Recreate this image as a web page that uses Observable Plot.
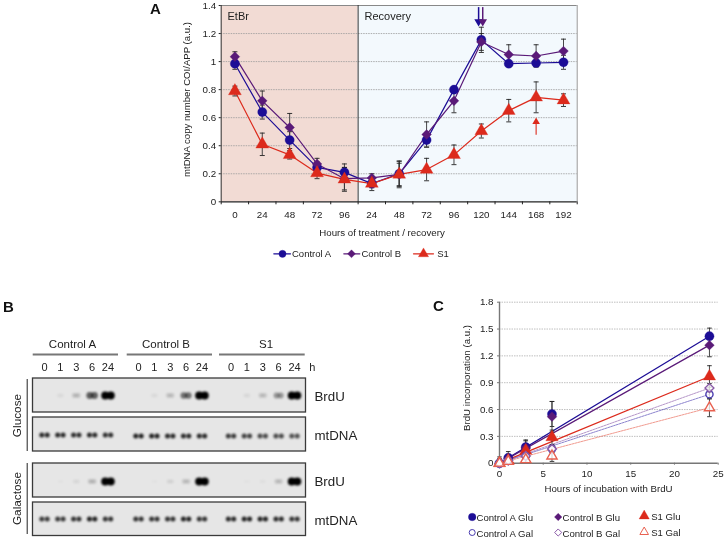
<!DOCTYPE html>
<html>
<head>
<meta charset="utf-8">
<script src="https://cdn.jsdelivr.net/npm/d3@7"></script>
<script src="https://cdn.jsdelivr.net/npm/@observablehq/plot@0.6"></script>
<style>
html,body{margin:0;padding:0;background:#fff}
#fig{position:relative;width:724px;height:538px;overflow:hidden;font-family:"Liberation Sans",Arial,sans-serif;filter:blur(.4px)}
#fig>svg,#fig>div.p{position:absolute;overflow:visible}
.letter{position:absolute;font:bold 15px "Liberation Sans",Arial,sans-serif;color:#111}
</style>
</head>
<body>
<div id="fig"></div>
<script>
// ---------- Panel A data ----------
const timeLabels = ["0","24","48","72","96","24","48","72","96","120","144","168","192"];
const controlA = [0.985,0.64,0.44,0.245,0.21,0.13,0.2,0.44,0.8,1.155,0.985,0.99,0.995];
const controlB = [1.035,0.72,0.53,0.27,0.165,0.17,0.195,0.48,0.72,1.14,1.05,1.04,1.075];
const s1 = [0.79,0.41,0.335,0.205,0.16,0.13,0.195,0.23,0.335,0.505,0.65,0.745,0.725];
const controlAErr = [0.04,0.05,0.06,0.04,0.06,0.03,0.09,0.05,0.02,0.09,0.02,0.02,0.05];
const controlBErr = [0.035,0.07,0.1,0.04,0.08,0.03,0.095,0.09,0.085,0.06,0.07,0.08,0.085];
const s1Err = [0.035,0.08,0.03,0.04,0.085,0.05,0.08,0.08,0.07,0.05,0.08,0.11,0.045];
const yTicksA = [0,0.2,0.4,0.6,0.8,1,1.2,1.4];

// ---------- Panel B data (band intensity 0-1) ----------
const groups = ["Control A","Control B","S1"];
const lanes = ["0","1","3","6","24"];
const gluBrdU = [[0,0.05,0.18,0.6,1],[0,0.05,0.16,0.52,1],[0,0.06,0.16,0.36,1]];
const gluMt   = [[0.82,0.82,0.8,0.82,0.8],[0.85,0.85,0.82,0.82,0.82],[0.75,0.72,0.68,0.68,0.65]];
const galBrdU = [[0,0.02,0.06,0.18,1],[0,0.02,0.08,0.16,1],[0,0.02,0.03,0.16,1]];
const galMt   = [[0.75,0.75,0.78,0.85,0.78],[0.78,0.78,0.78,0.85,0.78],[0.82,0.85,0.85,0.82,0.78]];

// ---------- Panel C data ----------
const hours = [0,1,3,6,24];
const aGlu = [0,0.06,0.18,0.55,1.42];
const bGlu = [0,0.05,0.17,0.52,1.32];
const sGlu = [0,0.03,0.14,0.29,0.97];
const aGal = [0,0.03,0.08,0.16,0.77];
const bGal = [0,0.03,0.08,0.16,0.84];
const sGal = [0,0.02,0.04,0.08,0.62];
const aGluErr = [0.07,0.07,0.08,0.14,0.09];
const bGluErr = [0.05,0.05,0.08,0.17,0.13];
const sGluErr = [0.03,0.03,0.05,0.08,0.12];
const aGalErr = [0.02,0.02,0.03,0.04,0.05];
const bGalErr = [0.02,0.02,0.03,0.04,0.05];
const sGalErr = [0.02,0.02,0.03,0.06,0.1];

const BLUE="#1c0d96", PURPLE="#5a1a78", RED="#dc2a1c", BLUE2="#4a3cb0", PURPLE2="#8a5aa8", RED2="#e8604f";
const fig = document.getElementById("fig");
const FONT='"Liberation Sans",Arial,sans-serif';
const cap = {draw(c,s){const r=Math.sqrt(s/Math.PI);c.moveTo(-r,0);c.lineTo(r,0);}};
function place(el,l,t){el.style.left=l+"px";el.style.top=t+"px";fig.appendChild(el);return el;}
function letter(t,l,tp){const d=document.createElement("div");d.className="letter";d.textContent=t;d.style.left=l+"px";d.style.top=tp+"px";fig.appendChild(d);}

// ---------- Panel A ----------
(function(){
  const W=440,H=270,ml=70.7,mr=13.3,mt=5,mb=68.7;
  const px=p=>((p-150-ml)/(W-ml-mr))*13-0.5;
  const py=p=>(H-mb-p)/(H-mb-mt)*1.4;
  const idx=timeLabels.map((_,i)=>i);
  const series=[
    {name:"Control A",v:controlA,e:controlAErr,c:BLUE,sym:"circle",r:4.6},
    {name:"Control B",v:controlB,e:controlBErr,c:PURPLE,sym:"diamond2",r:4.4,lr:3.6},
    {name:"S1",v:s1,e:s1Err,c:RED,sym:"triangle",r:4.8}
  ];
  const marks=[
    Plot.rect([0],{x1:-0.5,x2:4.5,y1:0,y2:1.4,fill:"#f2dbd4"}),
    Plot.rect([0],{x1:4.5,x2:12.5,y1:0,y2:1.4,fill:"#f3f9fd"}),
    Plot.ruleY(yTicksA.filter(d=>d>0&&d<1.4),{y:d=>d,stroke:"#9a9a9a",strokeWidth:.8,strokeDasharray:"1.5,1"}),
    Plot.ruleY([1.4],{stroke:"#888",strokeWidth:1}),
    Plot.ruleX([12.5],{stroke:"#999",strokeWidth:1}),
    Plot.ruleX([4.5],{stroke:"#333",strokeWidth:1}),
    Plot.ruleX([-0.5],{stroke:"#333",strokeWidth:1}),
    Plot.ruleY([0],{stroke:"#222",strokeWidth:1.2}),
    Plot.axisX({ticks:d3.range(-0.5,13,1),tickSize:3,tickFormat:()=>"",stroke:"#222"}),
    Plot.axisX({ticks:idx,tickSize:0,tickPadding:9,tickFormat:i=>timeLabels[i],fontSize:9.8,fontFamily:FONT,fill:"#222",label:null}),
    Plot.axisY({ticks:yTicksA,tickSize:2,tickPadding:3,tickFormat:d=>String(d),fontSize:9.8,fontFamily:FONT,fill:"#222",label:null,stroke:"#222"}),
    Plot.text(["Hours of treatment / recovery"],{x:px(381.5),y:py(232),text:d=>d,fontSize:9.7,fontFamily:FONT,fill:"#222"}),
    Plot.text(["mtDNA copy number COI/APP (a.u.)"],{x:px(186.7),y:py(99),text:d=>d,rotate:-90,fontSize:9.6,fontFamily:FONT,fill:"#222"}),
    Plot.text(["EtBr"],{x:px(227),y:py(16.3),text:d=>d,textAnchor:"start",fontSize:11,fontFamily:FONT,fill:"#222"}),
    Plot.text(["Recovery"],{x:px(364),y:py(16.3),text:d=>d,textAnchor:"start",fontSize:11,fontFamily:FONT,fill:"#222"})
  ];
  for(const s of series){
    marks.push(Plot.line(idx,{x:i=>i,y:i=>s.v[i],stroke:s.c,strokeWidth:1.2}));
  }
  for(const s of series){
    marks.push(Plot.ruleX(idx,{x:i=>i,y1:i=>s.v[i]-s.e[i],y2:i=>s.v[i]+s.e[i],stroke:"#333",strokeWidth:.9}));
    for(const sign of [-1,1]) marks.push(Plot.dot(idx,{x:i=>i,y:i=>s.v[i]+sign*s.e[i],symbol:cap,r:2.5,stroke:"#222",fill:"none",strokeWidth:.9}));
  }
  for(const s of series){
    marks.push(Plot.dot(idx,{x:i=>i,y:i=>s.v[i],symbol:s.sym,r:s.r,fill:s.c,stroke:s.c,strokeWidth:.3}));
  }
  // arrows: shaft + triangular head
  for(const [xa,col] of [[8.9,BLUE],[9.05,PURPLE]]){
    marks.push(Plot.ruleX([xa],{y1:1.385,y2:1.29,stroke:col,strokeWidth:1.5}));
    marks.push(Plot.dot([xa],{x:d=>d,y:()=>1.285,symbol:"triangle",rotate:180,r:3.2,fill:col}));
  }
  marks.push(Plot.ruleX([11],{y1:0.475,y2:0.565,stroke:RED,strokeWidth:1.1}));
  marks.push(Plot.dot([11],{x:d=>d,y:()=>0.57,symbol:"triangle",r:2.8,fill:RED}));
  // legend
  const ly=py(253.3);
  const leg=[[273.3,290,282,291.5],[343.3,359.3,351,361],[413,433,423,436.7]];
  series.forEach((s,i)=>{
    const L=leg[i];
    marks.push(Plot.line([L[0],L[1]],{x:d=>px(d),y:()=>ly,stroke:s.c,strokeWidth:1.2}));
    marks.push(Plot.dot([L[2]],{x:d=>px(d),y:()=>ly,symbol:s.sym,r:s.lr||s.r-1,fill:s.c,stroke:s.c,strokeWidth:.3}));
    marks.push(Plot.text([s.name],{x:px(L[3]),y:ly,text:d=>d,textAnchor:"start",fontSize:9.5,fontFamily:FONT,fill:"#222"}));
  });
  const p=Plot.plot({width:W,height:H,marginLeft:ml,marginRight:mr,marginTop:mt,marginBottom:mb,
    x:{type:"linear",domain:[-0.5,12.5]},y:{domain:[0,1.4]},marks});
  place(p,150,0);
})();

// ---------- Panel B ----------
(function(){
  const W=380,H=243;
  const X0=44,X1=294,span=15.75;
  const lx=p=>(p-X0)/(X1-X0)*span;
  const off=[0,5.92,11.75];
  const top=295;
  const panels=[[378,412],[417,451],[463,497],[502,535.5]];
  const marks=[
    Plot.rect(panels,{x1:()=>lx(32.5),x2:()=>lx(305.5),y1:d=>d[0]-top,y2:d=>d[1]-top,fill:"#e6e6e6",stroke:"#3a3a3a",strokeWidth:1.3})
  ];
  const bands=[];
  const rows=[[gluBrdU,395,0],[gluMt,434.5,1],[galBrdU,481,0],[galMt,518.6,1]];
  rows.forEach(([m,yc,isMt])=>{
    m.forEach((g,gi)=>g.forEach((v,li)=>{
      if(v<=0) return;
      const spread=isMt?0.17:(0.06+0.115*Math.sqrt(v));
      const r=isMt?2.5:(1.3+2.7*Math.sqrt(v));
      const yy=yc-top+(isMt===1&&yc<440&&gi>0?1:0);
      for(const s of [-1,1]) bands.push({x:off[gi]+li+s*spread,y:yy,r,o:v});
    }));
  });
  marks.push(Plot.dot(bands,{x:"x",y:"y",r:"r",fill:"#000",fillOpacity:"o",stroke:"none"}));
  // group headers
  const gc=[72,165.5,265.5], gr=[[32.7,118],[126.7,212],[219,304.7]];
  groups.forEach((g,i)=>{
    marks.push(Plot.text([g],{x:lx(gc[i]),y:344.3-top,text:d=>d,fontSize:11.5,fontFamily:FONT,fill:"#222"}));
    marks.push(Plot.ruleY([354-top],{x1:lx(gr[i][0]),x2:lx(gr[i][1]),stroke:"#777",strokeWidth:1.8}));
    lanes.forEach((t,j)=>marks.push(Plot.text([t],{x:off[i]+j,y:367-top,text:d=>d,fontSize:11,fontFamily:FONT,fill:"#222"})));
  });
  marks.push(Plot.text(["h"],{x:lx(311.7),y:367-top,text:d=>d,fontSize:11,fontFamily:FONT,fill:"#222"}));
  [["BrdU",396],["mtDNA",435.5],["BrdU",481.5],["mtDNA",520]].forEach(([t,y])=>{
    marks.push(Plot.text([t],{x:lx(314),y:y-top,text:d=>d,textAnchor:"start",fontSize:13.3,fontFamily:FONT,fill:"#222"}));
  });
  [["Glucose",415,379,451],["Galactose",498,463,534]].forEach(([t,y,a,b])=>{
    marks.push(Plot.text([t],{x:lx(16.7),y:y-top,text:d=>d,rotate:-90,fontSize:11.8,fontFamily:FONT,fill:"#222"}));
    marks.push(Plot.ruleX([lx(26.7)],{y1:a-top,y2:b-top,stroke:"#222",strokeWidth:1}));
  });
  const p=Plot.plot({width:W,height:H,marginLeft:0,marginRight:0,marginTop:0,marginBottom:0,
    x:{type:"linear",domain:[0,span],range:[X0,X1],axis:null},
    y:{type:"linear",domain:[0,H],range:[0,H],axis:null},r:{type:"identity"},marks});
  d3.select(p).selectAll('g[aria-label="dot"]').style("filter","blur(1.1px)");
  place(p,0,295);
})();

// ---------- Panel C ----------
(function(){
  const W=294,H=243,ml=69,mr=6.3,mt=6.7,mb=75.3;
  const px=p=>(p-430-ml)/(W-ml-mr)*25;
  const py=p=>(H-mb-(p-295))/(H-mb-mt)*1.8;
  const series=[
    {name:"Control A Glu",v:aGlu,e:aGluErr,c:BLUE,sym:"circle",r:4.6,open:false},
    {name:"Control B Glu",v:bGlu,e:bGluErr,c:PURPLE,sym:"diamond2",r:4.4,lr:3.4,open:false},
    {name:"S1 Glu",v:sGlu,e:sGluErr,c:RED,sym:"triangle",r:4.6,open:false},
    {name:"Control A Gal",v:aGal,e:aGalErr,c:BLUE2,sym:"circle",r:3.6,open:true},
    {name:"Control B Gal",v:bGal,e:bGalErr,c:PURPLE2,sym:"diamond2",r:4,lr:3.2,open:true},
    {name:"S1 Gal",v:sGal,e:sGalErr,c:RED2,sym:"triangle",r:3.8,open:true}
  ];
  const idx=hours.map((_,i)=>i);
  const yt=[0,0.3,0.6,0.9,1.2,1.5,1.8];
  const marks=[
    Plot.ruleY(yt.filter(d=>d>0),{y:d=>d,stroke:"#b0b0b0",strokeWidth:.8,strokeDasharray:"1.5,1"}),
    Plot.ruleX([0],{stroke:"#777",strokeWidth:1.4}),
    Plot.ruleY([0],{stroke:"#777",strokeWidth:1.4}),
    Plot.axisX({ticks:[0,5,10,15,20,25],tickSize:2,tickPadding:5,tickFormat:d=>String(d),fontSize:9.8,fontFamily:FONT,fill:"#222",label:null,stroke:"#777"}),
    Plot.axisY({ticks:yt,tickSize:2,tickPadding:4,tickFormat:d=>String(d),fontSize:9.8,fontFamily:FONT,fill:"#222",label:null,stroke:"#777"}),
    Plot.text(["Hours of incubation with BrdU"],{x:px(608),y:py(488),text:d=>d,fontSize:9.7,fontFamily:FONT,fill:"#222"}),
    Plot.text(["BrdU incorporation (a.u.)"],{x:px(466.7),y:py(377.5),text:d=>d,rotate:-90,fontSize:9.7,fontFamily:FONT,fill:"#222"})
  ];
  for(const s of series){
    marks.push(Plot.line([0,4],{x:i=>hours[i],y:i=>s.v[i],stroke:s.c,strokeWidth:s.open?.8:1.2,strokeDasharray:s.open?"2,1":null,strokeOpacity:s.open?.8:1}));
  }
  for(const s of series){
    marks.push(Plot.ruleX(idx,{x:i=>hours[i],y1:i=>Math.max(0,s.v[i]-s.e[i]),y2:i=>s.v[i]+s.e[i],stroke:"#333",strokeWidth:.9}));
    for(const sign of [-1,1]) marks.push(Plot.dot(idx,{x:i=>hours[i],y:i=>Math.max(0,s.v[i]+sign*s.e[i]),symbol:cap,r:2.3,stroke:"#222",fill:"none",strokeWidth:.9}));
  }
  for(const s of series){
    marks.push(Plot.dot(idx,{x:i=>hours[i],y:i=>s.v[i],symbol:s.sym,r:s.r,fill:s.open?"#fff":s.c,fillOpacity:s.open?.75:1,stroke:s.c,strokeWidth:s.open?1.4:.3}));
  }
  // legend
  const leg=[[471.7,517,476],[557.7,517,562],[643.7,516,650.7],[471.7,532.5,476],[557.7,532.5,562],[643.7,532,650.7]];
  series.forEach((s,i)=>{
    const [mx,my,tx]=leg[i];
    marks.push(Plot.dot([mx],{x:d=>px(d),y:()=>py(my-.5),symbol:s.sym,r:s.lr||(s.open?s.r-.6:s.r-.8),fill:s.open?"#fff":s.c,stroke:s.c,strokeWidth:s.open?1:.3}));
    marks.push(Plot.text([s.name],{x:px(tx),y:py(my+.5),text:d=>d,textAnchor:"start",fontSize:9.6,fontFamily:FONT,fill:"#222"}));
  });
  const p=Plot.plot({width:W,height:H,marginLeft:ml,marginRight:mr,marginTop:mt,marginBottom:mb,
    x:{domain:[0,25]},y:{domain:[0,1.8]},marks});
  place(p,430,295);
})();

letter("A",150,0);
letter("B",3,298);
letter("C",433,297);
</script>
</body>
</html>
